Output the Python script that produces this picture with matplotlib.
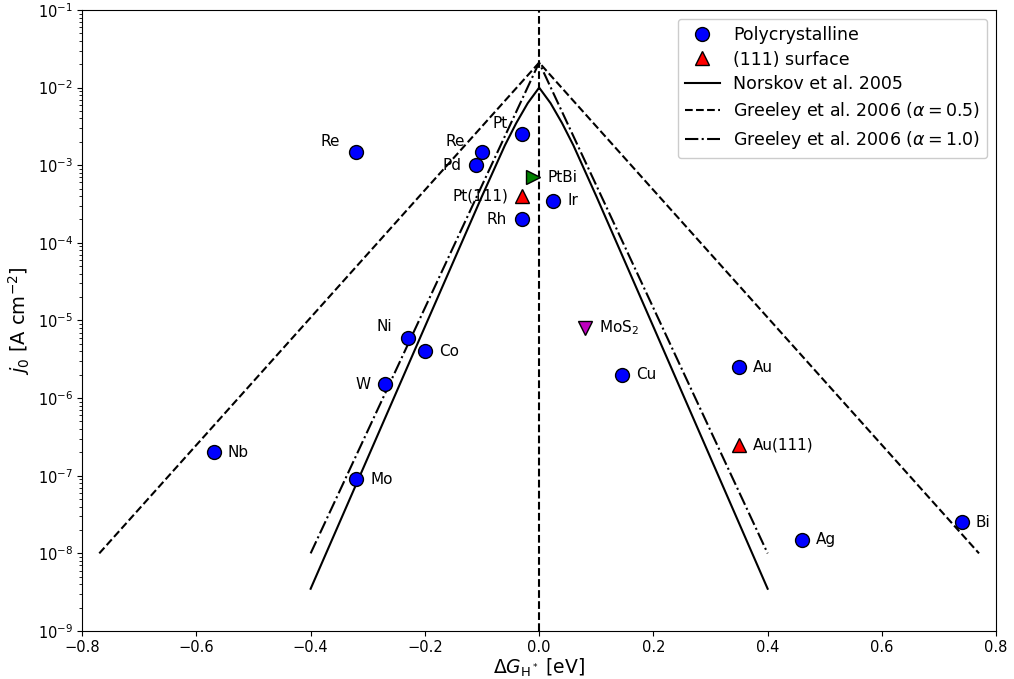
import matplotlib
matplotlib.use("Agg")
import matplotlib.pyplot as plt
from matplotlib.ticker import LogLocator, NullFormatter, FixedLocator

# Polycrystalline metals: free energy of adsorbed H [eV] and exchange current density [A cm^-2]
poly_names = ["Re", "Re", "Pd", "Pt", "Ir", "Rh", "Ni", "Co", "W", "Nb", "Mo",
              "Cu", "Au", "Ag", "Bi"]
poly_dG = [-0.32, -0.10, -0.11, -0.03, 0.025, -0.03, -0.23, -0.20, -0.27, -0.57, -0.32,
           0.145, 0.35, 0.46, 0.74]
poly_j0 = [1.5e-3, 1.5e-3, 1.0e-3, 2.5e-3, 3.5e-4, 2.0e-4, 6.0e-6, 4.0e-6, 1.5e-6, 2.0e-7, 9.0e-8,
           2.0e-6, 2.5e-6, 1.5e-8, 2.5e-8]

# (111) single-crystal surfaces
s111_names = ["Pt(111)", "Au(111)"]
s111_dG = [-0.03, 0.35]
s111_j0 = [4.0e-4, 2.5e-7]

# Other catalysts
ptbi_dG, ptbi_j0 = [-0.01], [7.0e-4]
mos2_dG, mos2_j0 = [0.08], [8.0e-6]

# Model volcano curves
norskov_dG = [-0.40, -0.20, -0.10, -0.06, -0.04, -0.02, 0.0, 0.02, 0.04, 0.06, 0.10, 0.20, 0.40]
norskov_j0 = [3.5e-9, 8.3e-6, 4.0e-4, 1.8e-3, 3.5e-3, 6.3e-3, 1.0e-2,
              6.3e-3, 3.5e-3, 1.8e-3, 4.0e-4, 8.3e-6, 3.5e-9]
greeley05_dG = [-0.77, 0.0, 0.77]
greeley05_j0 = [1.0e-8, 2.1e-2, 1.0e-8]
greeley10_dG = [-0.40, 0.0, 0.40]
greeley10_j0 = [1.0e-8, 2.1e-2, 1.0e-8]

# Label placement (offset in points from each marker)
poly_offsets = [(-12, 7), (-12, 7), (-11, 0), (-10, 8), (10, 0), (-11, 0), (-11, 8), (10, 0),
                (-10, 0), (10, 0), (10, 0), (10, 0), (10, 0), (10, 0), (10, 0)]
poly_ha = ["right", "right", "right", "right", "left", "right", "right", "left",
           "right", "left", "left", "left", "left", "left", "left"]
s111_offsets = [(-10, 0), (10, 0)]
s111_ha = ["right", "left"]

plt.rcParams["font.family"] = "DejaVu Sans"
plt.rcParams["mathtext.fontset"] = "dejavusans"

fig = plt.figure(figsize=(10.14, 6.79), dpi=100)
ax = fig.add_axes([0.081, 0.0707, 0.9014, 0.9146])

ms = 10
ax.plot(poly_dG, poly_j0, "o", color="blue", mec="black", mew=1.0, ms=ms,
        label="Polycrystalline", zorder=3)
ax.plot(s111_dG, s111_j0, "^", color="red", mec="black", mew=1.0, ms=ms,
        label="(111) surface", zorder=3)
ax.plot(ptbi_dG, ptbi_j0, ">", color="green", mec="black", mew=1.0, ms=ms, zorder=3)
ax.plot(mos2_dG, mos2_j0, "v", color="m", mec="black", mew=1.0, ms=ms, zorder=3)

ax.plot(norskov_dG, norskov_j0, "-", color="black", lw=1.5, label="Norskov et al. 2005")
ax.plot(greeley05_dG, greeley05_j0, "--", color="black", lw=1.5,
        label=r"Greeley et al. 2006 ($\alpha = 0.5$)")
ax.plot(greeley10_dG, greeley10_j0, "-.", color="black", lw=1.5,
        label=r"Greeley et al. 2006 ($\alpha = 1.0$)")

ax.axvline(0.0, color="black", ls="--", lw=1.5, zorder=1)

lab_fs = 11
for n, x, y, off, ha in zip(poly_names, poly_dG, poly_j0, poly_offsets, poly_ha):
    ax.annotate(n, (x, y), xytext=off, textcoords="offset points",
                ha=ha, va="center", fontsize=lab_fs)
for n, x, y, off, ha in zip(s111_names, s111_dG, s111_j0, s111_offsets, s111_ha):
    ax.annotate(n, (x, y), xytext=off, textcoords="offset points",
                ha=ha, va="center", fontsize=lab_fs)
ax.annotate("PtBi", (ptbi_dG[0], ptbi_j0[0]), xytext=(10, 0), textcoords="offset points",
            ha="left", va="center", fontsize=lab_fs)
ax.annotate(r"MoS$_2$", (mos2_dG[0], mos2_j0[0]), xytext=(10, 0), textcoords="offset points",
            ha="left", va="center", fontsize=lab_fs)

ax.set_yscale("log")
ax.set_xlim(-0.8, 0.8)
ax.set_ylim(1e-9, 1e-1)
ax.xaxis.set_major_locator(FixedLocator([-0.8, -0.6, -0.4, -0.2, 0.0, 0.2, 0.4, 0.6, 0.8]))
ax.yaxis.set_major_locator(LogLocator(base=10, numticks=20))
ax.yaxis.set_minor_locator(LogLocator(base=10, subs=[2, 3, 4, 5, 6, 7, 8, 9], numticks=20))
ax.yaxis.set_minor_formatter(NullFormatter())
ax.tick_params(axis="both", which="major", labelsize=10.5, pad=3)

ax.set_xlabel(r"$\Delta G_{\mathrm{H^*}}$ [eV]", fontsize=13.5, labelpad=1)
ax.set_ylabel(r"$j_0$ [A cm$^{-2}$]", fontsize=14)

ax.legend(loc="upper right", fontsize=12.5, framealpha=1.0, labelspacing=0.4)

fig.savefig("out.png", dpi=100)
